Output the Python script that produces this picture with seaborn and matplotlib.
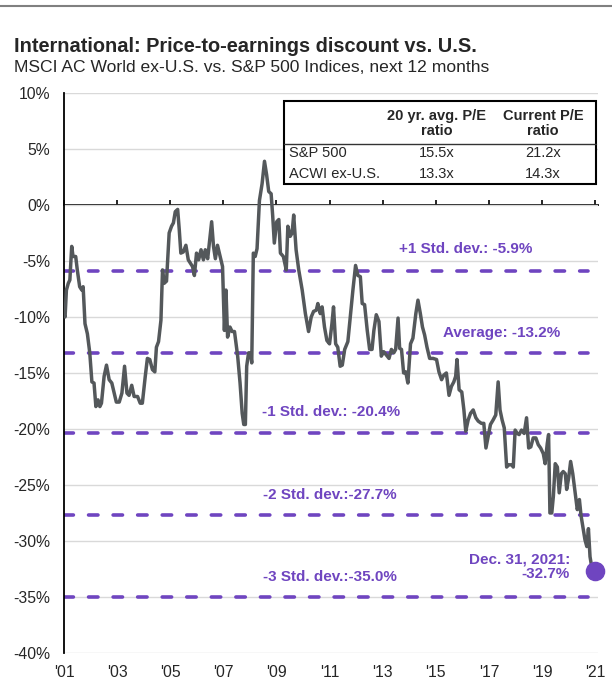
import pandas as pd
import numpy as np
import matplotlib
matplotlib.use('Agg')
import matplotlib.pyplot as plt
from matplotlib.patches import Rectangle
from matplotlib.lines import Line2D
import seaborn as sns

# P/E discount of MSCI ACWI ex-U.S. vs S&P 500 (%)
years = [2001.00, 2001.04, 2001.09, 2001.16, 2001.22, 2001.29, 2001.34, 2001.44, 2001.50, 2001.59, 2001.67, 2001.72, 2001.79, 2001.88, 2001.97,
         2002.05, 2002.13, 2002.20, 2002.28, 2002.35, 2002.41, 2002.51, 2002.60, 2002.70, 2002.80, 2002.89, 2002.97,
         2003.08, 2003.18, 2003.28, 2003.37, 2003.45, 2003.55, 2003.64, 2003.77, 2003.87, 2003.95,
         2004.06, 2004.14, 2004.23, 2004.33, 2004.42, 2004.48, 2004.56, 2004.65, 2004.71, 2004.77, 2004.86, 2004.96,
         2005.05, 2005.12, 2005.19, 2005.28, 2005.34, 2005.40, 2005.49, 2005.59, 2005.68, 2005.84, 2005.91, 2005.99,
         2006.07, 2006.16, 2006.25, 2006.32, 2006.41, 2006.50, 2006.56, 2006.63, 2006.70, 2006.78, 2006.88, 2006.97,
         2007.04, 2007.10, 2007.16, 2007.25, 2007.33, 2007.42, 2007.54, 2007.63, 2007.71, 2007.77, 2007.83, 2007.88, 2007.95,
         2008.02, 2008.07, 2008.13, 2008.20, 2008.27, 2008.36, 2008.46, 2008.55, 2008.63, 2008.71, 2008.80, 2008.86, 2008.92,
         2009.01, 2009.09, 2009.15, 2009.26, 2009.37, 2009.43, 2009.52, 2009.59, 2009.65, 2009.74, 2009.84, 2009.97,
         2010.09, 2010.21, 2010.31, 2010.40, 2010.50, 2010.56, 2010.65, 2010.72, 2010.81, 2010.90,
         2011.00, 2011.09, 2011.15, 2011.23, 2011.31, 2011.40, 2011.48, 2011.57, 2011.69, 2011.78, 2011.88, 2011.98,
         2012.07, 2012.16, 2012.23, 2012.32, 2012.42, 2012.51, 2012.60, 2012.67, 2012.76, 2012.86, 2012.95,
         2013.04, 2013.14, 2013.24, 2013.33, 2013.42, 2013.49, 2013.58, 2013.64, 2013.71, 2013.79, 2013.87, 2013.95,
         2014.05, 2014.14, 2014.25, 2014.33, 2014.42, 2014.50, 2014.58, 2014.67, 2014.77, 2014.90,
         2015.03, 2015.12, 2015.22, 2015.30, 2015.40, 2015.50, 2015.59, 2015.68, 2015.75, 2015.80, 2015.88, 2015.98,
         2016.06, 2016.13, 2016.22, 2016.31, 2016.41, 2016.51, 2016.60, 2016.72, 2016.81, 2016.89, 2016.97,
         2017.06, 2017.16, 2017.26, 2017.35, 2017.42, 2017.50, 2017.58, 2017.67, 2017.75, 2017.86, 2017.92, 2017.99,
         2018.07, 2018.14, 2018.23, 2018.33, 2018.42, 2018.50, 2018.58, 2018.67, 2018.77, 2018.86, 2018.95,
         2019.05, 2019.12, 2019.20, 2019.25, 2019.30, 2019.37, 2019.43, 2019.50, 2019.58, 2019.65, 2019.73, 2019.80, 2019.88, 2019.93,
         2020.01, 2020.08, 2020.16, 2020.25, 2020.33, 2020.41, 2020.47, 2020.56, 2020.62, 2020.69, 2020.75, 2020.81, 2020.88, 2021.00]
discount = [-9.8, -10.0, -7.6, -7.0, -6.7, -3.7, -4.6, -4.6, -5.8, -7.3, -7.6, -7.3, -10.6, -11.5, -13.2,
            -15.8, -15.9, -18.0, -17.4, -18.0, -17.7, -15.3, -14.3, -15.6, -15.9, -16.8, -17.6,
            -17.6, -16.8, -14.4, -16.8, -17.0, -16.1, -17.1, -17.1, -17.7, -17.7,
            -15.3, -13.7, -13.8, -14.7, -14.9, -12.7, -12.2, -10.3, -5.8, -7.0, -6.8, -2.5,
            -1.9, -1.6, -0.6, -0.4, -2.2, -4.3, -4.2, -3.6, -4.9, -5.5, -6.3, -4.3,
            -4.9, -4.0, -4.9, -4.0, -4.8, -2.8, -1.5, -3.7, -4.8, -3.6, -4.6, -5.5,
            -11.2, -7.6, -11.8, -10.9, -11.3, -11.3, -13.5, -15.9, -18.6, -19.6, -19.6, -14.4, -13.2,
            -13.2, -14.1, -4.3, -4.6, -3.9, 0.4, 1.9, 3.9, 2.7, 1.2, 1.0, -1.0, -3.4,
            -1.5, -1.3, -4.3, -4.6, -5.8, -1.9, -2.8, -2.5, -0.9, -4.0, -5.8, -7.6,
            -9.7, -11.3, -10.0, -9.5, -9.4, -8.8, -9.7, -9.1, -10.9, -12.1,
            -12.4, -10.6, -9.1, -12.4, -12.7, -14.4, -14.3, -12.9, -12.2, -10.0, -7.6, -5.4,
            -6.3, -6.4, -8.8, -8.9, -11.2, -12.9, -12.9, -11.2, -9.8, -10.4, -13.5,
            -13.1, -13.4, -13.7, -12.9, -13.2, -12.9, -10.1, -12.8, -12.9, -15.0, -14.9, -15.9,
            -12.4, -11.9, -9.7, -8.5, -9.7, -10.9, -11.6, -12.7, -13.7, -13.7,
            -13.8, -14.9, -15.6, -15.2, -15.0, -17.0, -16.2, -15.8, -15.3, -13.8, -16.5, -16.7,
            -18.3, -20.2, -19.2, -18.6, -18.3, -19.0, -19.3, -19.5, -19.5, -21.7, -20.7,
            -19.6, -19.2, -18.75, -15.8, -18.3, -19.2, -19.9, -23.4, -23.2, -23.2, -23.4, -20.1,
            -20.4, -20.5, -20.1, -20.4, -19.0, -21.7, -21.6, -20.8, -20.8, -21.4, -21.7,
            -22.2, -23.1, -21.3, -20.5, -27.5, -27.5, -26.0, -23.1, -23.4, -25.7, -24.0, -23.8, -24.0, -25.4,
            -24.3, -22.9, -24.0, -25.7, -27.2, -26.3, -27.7, -29.0, -29.9, -30.5, -28.9, -31.4, -32.4, -32.7]

std_levels = [-5.9, -13.2, -20.4, -27.7, -35.0]
std_labels = ['+1 Std. dev.: -5.9%', 'Average: -13.2%', '-1 Std. dev.: -20.4%',
              '-2 Std. dev.:-27.7%', '-3 Std. dev.:-35.0%']
# where each label sits (x in years, y in %)
std_label_x = [2016.13, 2017.49, 2011.04, 2011.0, 2011.0]
std_label_y = [-3.9, -11.4, -18.5, -25.9, -33.2]

xtick_years = list(range(2001, 2022, 2))
xtick_labels = ["'01", "'03", "'05", "'07", "'09", "'11", "'13", "'15", "'17", "'19", "'21"]
yticks = list(range(-40, 11, 5))

table_header = ['20 yr. avg. P/E\nratio', 'Current P/E\nratio']
table_rows = ['S&P 500', 'ACWI ex-U.S.']
avg_pe = ['15.5x', '13.3x']
current_pe = ['21.2x', '14.3x']

purple = '#6F45C0'
line_gray = '#54585B'

sns.set_style('white')
plt.rcParams['font.family'] = ['Liberation Sans', 'DejaVu Sans']

df = pd.DataFrame({'year': years, 'discount': discount})

fig = plt.figure(figsize=(6.12, 6.88), dpi=100)
ax = fig.add_axes([0.1046, 0.0509, 0.8725, 0.814])

ymin, ymax = -40, 10
ax.set_ylim(ymin, ymax)
ax.set_xlim(2001, 2021.11)

ax.set_yticks(yticks)
ax.set_yticklabels([f'{v}%' for v in yticks], fontsize=11.3)
ax.set_xticks(xtick_years)
ax.set_xticklabels(xtick_labels, fontsize=11.3)
ax.tick_params(axis='both', length=0)
ax.tick_params(axis='y', pad=10)
ax.tick_params(axis='x', pad=9)
ax.yaxis.grid(True, color='#D9D9D9', lw=1)
ax.set_axisbelow(True)
for s in ['top', 'right', 'bottom']:
    ax.spines[s].set_visible(False)
ax.spines['left'].set_color('black')
ax.spines['left'].set_linewidth(1.3)

ax.hlines(std_levels, 2001, 2020.72, colors=purple, linestyles=(0, (2.6, 4.2)),
          linewidth=2.6, capstyle='round', zorder=2)
for lab, lx, ly in zip(std_labels, std_label_x, std_label_y):
    ax.text(lx, ly, lab, color=purple, fontsize=11, fontweight='bold',
            ha='center', va='center')

sns.lineplot(data=df, x='year', y='discount', ax=ax, color=line_gray, linewidth=2.5, zorder=4)
sns.scatterplot(x=[years[-1]], y=[discount[-1]], ax=ax, color=purple, s=170,
                edgecolor=purple, zorder=5, clip_on=False)
ax.text(2020.06, -32.3, 'Dec. 31, 2021:\n-32.7%', color=purple, fontsize=11,
        fontweight='bold', ha='right', va='center', linespacing=1.1)
ax.set_xlabel('')
ax.set_ylabel('')

# zero line with upward tick marks
zero_loc = (0 - ymin) / (ymax - ymin)
secax = ax.secondary_xaxis(zero_loc)
secax.set_xticks(xtick_years)
secax.tick_params(axis='x', direction='out', length=3.5, width=1.2, color='black',
                  labeltop=False, labelbottom=False)
secax.spines['top'].set_linewidth(1.3)
secax.spines['top'].set_color('black')

# P/E table in the upper right
ax.add_patch(Rectangle((0.412, 0.8375), 0.584, 0.148, transform=ax.transAxes,
                       facecolor='white', edgecolor='black', lw=1.5, zorder=6))
ax.plot([0.412, 0.996], [0.9085, 0.9085], transform=ax.transAxes, color='#333333', lw=1, zorder=7)
col_x = [0.6985, 0.897]
for cx, h in zip(col_x, table_header):
    ax.text(cx, 0.945, h, transform=ax.transAxes, ha='center', va='center',
            fontsize=10.5, fontweight='bold', linespacing=1.05, zorder=7)
row_y = [0.8925, 0.8555]
for ry, name, a, c in zip(row_y, table_rows, avg_pe, current_pe):
    ax.text(0.4213, ry, name, transform=ax.transAxes, ha='left', va='center', fontsize=10.5, zorder=7)
    ax.text(col_x[0], ry, a, transform=ax.transAxes, ha='center', va='center', fontsize=10.5, zorder=7)
    ax.text(col_x[1], ry, c, transform=ax.transAxes, ha='center', va='center', fontsize=10.5, zorder=7)

fig.add_artist(Line2D([0, 1], [1 - 5.5 / 688, 1 - 5.5 / 688], color='#808080', lw=1.5))
fig.text(14 / 612, 1 - 46 / 688, 'International: Price-to-earnings discount vs. U.S.',
         fontsize=14.4, fontweight='bold', ha='left', va='center')
fig.text(14 / 612, 1 - 67 / 688, 'MSCI AC World ex-U.S. vs. S&P 500 Indices, next 12 months',
         fontsize=12.6, ha='left', va='center')

fig.savefig('out.png', dpi=100)
